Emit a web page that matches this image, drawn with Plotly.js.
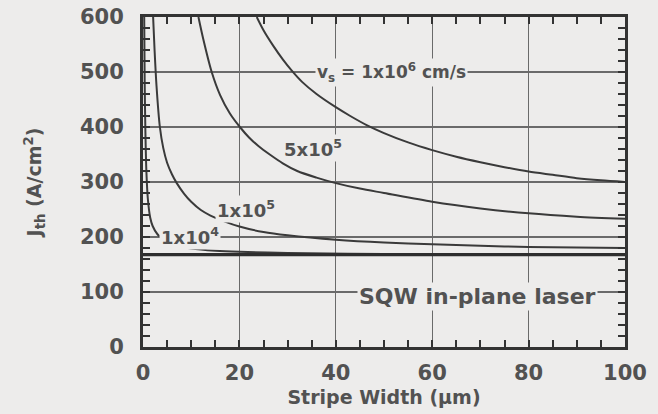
<!DOCTYPE html>
<html><head><meta charset="utf-8">
<script src="https://cdn.plot.ly/plotly-3.0.1.min.js"></script>
<style>html,body{margin:0;padding:0;background:#edeceb}</style>
</head><body>
<div id="chart" style="width:658px;height:414px"></div>
<script>
// Stripe width (um) and threshold current density J_th (A/cm^2)
const width_1e4 = [0.25, 0.35, 0.5, 0.7, 1, 1.5, 2, 3, 4, 5, 7, 10, 15, 20, 30, 50, 100];
const jth_1e4   = [600, 480, 390, 320, 270, 235, 220, 205, 197, 192, 184, 179, 175, 173, 171, 169, 168.5];

const width_1e5 = [2.1, 2.4, 2.8, 3.5, 4.2, 5, 6, 7, 8.5, 10, 12, 14, 17, 20, 25, 30, 40, 50, 60, 70, 80, 90, 100];
const jth_1e5   = [600, 540, 475, 400, 362, 335, 314, 298, 279, 264, 249, 239, 228, 219, 209, 203, 195, 190, 187, 184, 182, 181, 180];

const width_5e5 = [11.5, 12.5, 14.25, 16, 18, 20.1, 22, 24, 26.3, 29, 32, 36, 40, 45, 50, 60, 70, 80, 90, 100];
const jth_5e5   = [600, 560, 500, 458, 425, 400, 381, 365, 350, 334, 320, 308, 298, 288, 280, 264, 252, 243, 237, 233];

const width_1e6 = [23.6, 25, 27, 29, 31, 33, 36, 40, 43, 46.5, 50, 55, 60, 65, 70, 75, 80, 85, 90, 95, 100];
const jth_1e6   = [600, 576, 548, 523, 501, 482, 460, 436, 420, 403, 389, 372, 358, 346, 336, 327, 319, 313, 307, 303, 300];

const width_inplane = [0, 100];
const jth_inplane   = [168, 168];

const labelText = ['v<sub>s</sub> = 1x10<sup>6</sup> cm/s', '5x10<sup>5</sup>', '1x10<sup>5</sup>', '1x10<sup>4</sup>', 'SQW in-plane laser'];
const labelX = [51.6, 35.3, 21.4, 9.8, 69.5];
const labelY = [500, 362, 251, 202, 91];
const labelSize = [17, 18, 18, 18, 22];

const bg = '#edeceb';
const ink = '#3a3a3a';
const txt = '#525252';
const font = 'DejaVu Sans, sans-serif';

function curve(x, y, w) {
  return {x: x, y: y, type: 'scatter', mode: 'lines',
          line: {color: ink, width: w, shape: 'spline', smoothing: 0.8},
          hoverinfo: 'skip', showlegend: false, cliponaxis: true};
}

const data = [
  curve(width_1e4, jth_1e4, 2),
  curve(width_1e5, jth_1e5, 2),
  curve(width_5e5, jth_5e5, 2),
  curve(width_1e6, jth_1e6, 2),
  {x: width_inplane, y: jth_inplane, type: 'scatter', mode: 'lines',
   line: {color: '#2e2e2e', width: 3.2}, showlegend: false, hoverinfo: 'skip'}
];

const annotations = labelText.map((t, i) => ({
  x: labelX[i], y: labelY[i], xref: 'x', yref: 'y', text: t, showarrow: false,
  font: {family: font, size: labelSize[i], color: txt, weight: 'bold'},
  bgcolor: bg, borderpad: 1
}));

const axisCommon = {
  showline: true, linewidth: 3, linecolor: '#333', mirror: 'ticks',
  ticks: 'inside', ticklen: 7, tickwidth: 2, tickcolor: '#333',
  showgrid: true, gridcolor: '#6a6a6a', gridwidth: 1.2,
  zeroline: false, fixedrange: true,
  tickfont: {family: font, size: 21, color: txt, weight: 'bold'}
};

const layout = {
  width: 658, height: 414,
  margin: {l: 143, r: 33, t: 17, b: 67, pad: 0},
  paper_bgcolor: bg, plot_bgcolor: bg,
  font: {family: font, color: ink},
  xaxis: Object.assign({}, axisCommon, {
    range: [0, 100], tickvals: [0, 20, 40, 60, 80, 100],
    ticktext: ['0', '20', '40', '60', '80', '100'],
    minor: {dtick: 5, ticks: 'inside', ticklen: 7, tickwidth: 2, tickcolor: '#333', showgrid: false},
    ticklabelstandoff: 5,
    title: {text: 'Stripe Width (µm)', font: {family: font, size: 19, color: txt, weight: 'bold'}, standoff: 7}
  }),
  yaxis: Object.assign({}, axisCommon, {
    range: [0, 600], tickvals: [0, 100, 200, 300, 400, 500, 600],
    ticktext: ['0', '100', '200', '300', '400', '500', '600'],
    minor: {dtick: 20, ticks: 'inside', ticklen: 7, tickwidth: 2, tickcolor: '#333', showgrid: false},
    ticklabelstandoff: 12,
    title: {text: 'J<sub>th</sub> (A/cm<sup>2</sup>)', font: {family: font, size: 19, color: txt, weight: 'bold'}, standoff: 34}
  }),
  annotations: annotations
};

Plotly.newPlot('chart', data, layout, {staticPlot: true, displayModeBar: false});
</script>
</body></html>
